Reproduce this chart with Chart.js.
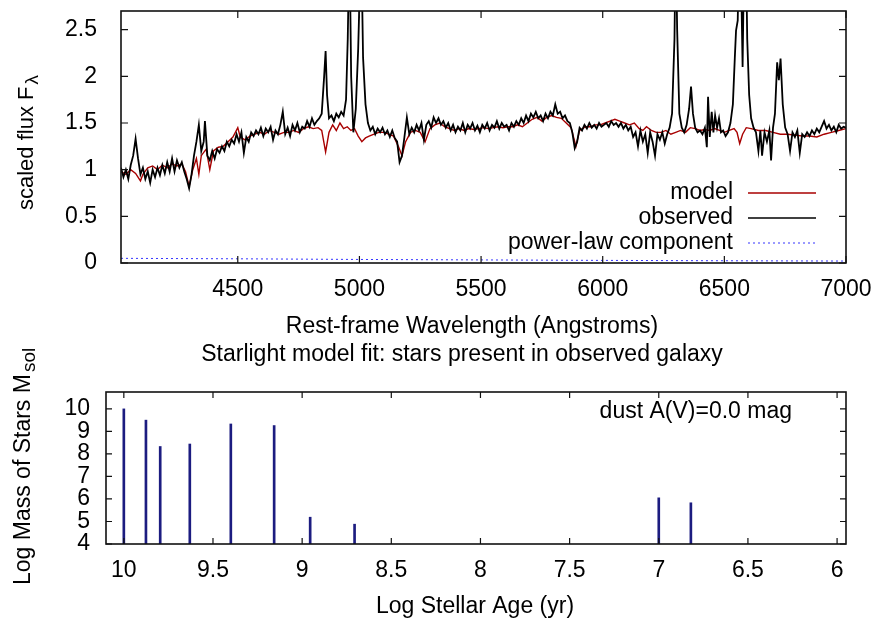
<!DOCTYPE html>
<html>
<head>
<meta charset="utf-8">
<script src="https://cdn.jsdelivr.net/npm/chart.js@4.4.0/dist/chart.umd.min.js"></script>
<style>
  html, body { margin: 0; padding: 0; background: #fff; }
  #wrap { position: relative; width: 890px; height: 623px; overflow: hidden; }
  #spec { position: absolute; left: 0; top: 0; }
  #mass { position: absolute; left: 0; top: 340px; }
</style>
</head>
<body>
<div id="wrap">
  <canvas id="spec" width="890" height="340"></canvas>
  <canvas id="mass" width="890" height="283"></canvas>
</div>
<script>
// === data ===

// observed spectrum (wavelength in Angstroms, scaled flux)
const OBS_WAVE = [
  4020, 4030, 4040, 4050, 4060, 4070, 4080, 4090, 4100, 4110,
  4120, 4130, 4140, 4150, 4160, 4170, 4180, 4190, 4200, 4210,
  4220, 4230, 4240, 4250, 4260, 4270, 4280, 4290, 4300, 4310,
  4320, 4330, 4340, 4350, 4360, 4365, 4375, 4385, 4395, 4405,
  4415, 4425, 4435, 4445, 4455, 4465, 4475, 4485, 4495, 4505,
  4515, 4525, 4535, 4545, 4555, 4565, 4575, 4585, 4595, 4605,
  4615, 4625, 4635, 4645, 4655, 4665, 4675, 4685, 4695, 4705,
  4715, 4725, 4735, 4745, 4755, 4765, 4775, 4785, 4795, 4805,
  4815, 4825, 4835, 4845, 4855, 4861, 4867, 4875, 4885, 4895,
  4905, 4915, 4925, 4935, 4945, 4952, 4959, 4966, 4975, 4985,
  4995, 5007, 5015, 5025, 5035, 5045, 5055, 5065, 5075, 5085,
  5095, 5105, 5115, 5125, 5135, 5145, 5155, 5165, 5175, 5185,
  5195, 5205, 5215, 5225, 5235, 5245, 5255, 5265, 5275, 5285,
  5295, 5305, 5315, 5325, 5335, 5345, 5355, 5365, 5375, 5385,
  5395, 5405, 5415, 5425, 5435, 5445, 5455, 5465, 5475, 5485,
  5495, 5505, 5515, 5525, 5535, 5545, 5555, 5565, 5575, 5585,
  5595, 5605, 5615, 5625, 5635, 5645, 5655, 5665, 5675, 5685,
  5695, 5705, 5715, 5725, 5735, 5745, 5755, 5765, 5775, 5785,
  5795, 5805, 5815, 5825, 5835, 5845, 5855, 5865, 5875, 5885,
  5895, 5905, 5915, 5925, 5935, 5945, 5955, 5965, 5975, 5985,
  5995, 6005, 6015, 6025, 6035, 6045, 6055, 6065, 6075, 6085,
  6095, 6105, 6115, 6125, 6135, 6145, 6155, 6165, 6175, 6185,
  6195, 6205, 6215, 6225, 6235, 6245, 6255, 6265, 6275, 6285,
  6295, 6300, 6306, 6315, 6325, 6335, 6345, 6355, 6363, 6371,
  6380, 6390, 6400, 6410, 6420, 6428, 6433, 6440, 6448, 6455,
  6462, 6470, 6478, 6486, 6495, 6505, 6515, 6525, 6535, 6543,
  6548, 6555, 6561, 6566, 6575, 6582, 6588, 6594, 6602, 6610,
  6620, 6630, 6640, 6648, 6655, 6665, 6675, 6685, 6692, 6700,
  6708, 6717, 6724, 6731, 6740, 6750, 6760, 6770, 6780, 6790,
  6800, 6810, 6820, 6830, 6840, 6850, 6860, 6870, 6880, 6890,
  6900, 6910, 6920, 6930, 6940, 6950, 6960, 6970, 6980, 6990,
  7000
];
const OBS_FLUX = [
  1.02, 0.92, 1.00, 0.90, 1.05, 1.15, 1.33, 1.12, 0.95, 1.02,
  0.90, 0.98, 0.86, 1.00, 0.92, 1.02, 0.94, 1.05, 0.96, 1.08,
  0.98, 1.12, 0.98, 1.10, 1.02, 1.08, 0.98, 0.90, 0.80, 0.95,
  1.15, 1.30, 1.48, 1.20, 1.30, 1.52, 1.15, 1.10, 1.20, 1.12,
  1.22, 1.18, 1.25, 1.20, 1.30, 1.25, 1.32, 1.28, 1.38, 1.30,
  1.40, 1.18, 1.35, 1.30, 1.40, 1.36, 1.42, 1.38, 1.45, 1.36,
  1.44, 1.40, 1.46, 1.32, 1.42, 1.38, 1.48, 1.62, 1.38, 1.45,
  1.36, 1.48, 1.42, 1.50, 1.40, 1.46, 1.44, 1.52, 1.46, 1.55,
  1.48, 1.52, 1.55, 1.60, 2.00, 2.27, 1.80, 1.55, 1.58, 1.52,
  1.60, 1.56, 1.62, 1.58, 1.75, 2.40, 3.50, 2.00, 1.40, 1.65,
  2.30, 3.50, 2.20, 1.70, 1.50, 1.42, 1.46, 1.38, 1.44, 1.40,
  1.45, 1.38, 1.42, 1.35, 1.42, 1.34, 1.30, 1.08, 1.15, 1.35,
  1.56, 1.38, 1.45, 1.40, 1.48, 1.42, 1.50, 1.32, 1.48, 1.52,
  1.45, 1.56, 1.50, 1.55, 1.48, 1.52, 1.45, 1.50, 1.42, 1.48,
  1.40, 1.46, 1.42, 1.50, 1.40, 1.48, 1.44, 1.50, 1.42, 1.47,
  1.40, 1.48, 1.44, 1.50, 1.42, 1.48, 1.45, 1.52, 1.44, 1.50,
  1.46, 1.48, 1.42, 1.50, 1.46, 1.52, 1.48, 1.55, 1.50, 1.58,
  1.52, 1.60, 1.56, 1.62, 1.55, 1.58, 1.52, 1.60, 1.55, 1.62,
  1.58, 1.70, 1.60, 1.62, 1.55, 1.58, 1.52, 1.50, 1.40, 1.23,
  1.30, 1.45, 1.42, 1.48, 1.44, 1.50, 1.45, 1.48, 1.44, 1.50,
  1.46, 1.48, 1.50, 1.46, 1.52, 1.48, 1.50, 1.46, 1.50, 1.44,
  1.48, 1.42, 1.46, 1.35, 1.40, 1.25, 1.42, 1.30, 1.38, 1.18,
  1.40, 1.30, 1.15, 1.38, 1.32, 1.40, 1.28, 1.38, 1.45, 1.60,
  2.40, 3.50, 2.50, 1.60, 1.45, 1.40, 1.48, 1.65, 1.89, 1.60,
  1.45, 1.40, 1.42, 1.38, 1.45, 1.24, 1.78, 1.35, 1.62, 1.40,
  1.58, 1.45, 1.55, 1.40, 1.42, 1.36, 1.40, 1.50, 1.70, 2.20,
  2.49, 2.60, 3.50, 3.50, 2.10, 3.50, 3.50, 2.40, 1.80, 1.55,
  1.45, 1.40, 1.20, 1.42, 1.15, 1.40, 1.30, 1.42, 1.10, 1.45,
  1.60, 2.15, 1.96, 2.19, 1.70, 1.45, 1.38, 1.20, 1.40, 1.35,
  1.42, 1.18, 1.38, 1.35, 1.40, 1.36, 1.42, 1.38, 1.44, 1.40,
  1.46, 1.52, 1.44, 1.48, 1.42, 1.46, 1.40, 1.48, 1.44, 1.46,
  1.45
];

// best-fit starlight model
const MODEL_WAVE = [
  4020, 4040, 4060, 4080, 4100, 4110, 4130, 4150, 4170, 4190,
  4210, 4230, 4250, 4270, 4285, 4300, 4315, 4330, 4340, 4350,
  4370, 4385, 4400, 4420, 4440, 4460, 4480, 4500, 4510, 4530,
  4550, 4570, 4590, 4610, 4630, 4650, 4670, 4690, 4710, 4730,
  4750, 4770, 4790, 4810, 4830, 4845, 4861, 4875, 4890, 4905,
  4920, 4935, 4950, 4965, 4980, 4995, 5010, 5025, 5040, 5060,
  5080, 5100, 5120, 5140, 5160, 5175, 5190, 5210, 5230, 5250,
  5270, 5290, 5310, 5330, 5350, 5370, 5390, 5410, 5430, 5450,
  5470, 5490, 5510, 5530, 5550, 5570, 5590, 5610, 5630, 5650,
  5670, 5690, 5710, 5730, 5750, 5770, 5790, 5810, 5830, 5850,
  5870, 5890, 5905, 5930, 5950, 5970, 5990, 6010, 6030, 6050,
  6070, 6090, 6110, 6130, 6150, 6165, 6180, 6200, 6220, 6240,
  6260, 6280, 6300, 6320, 6340, 6360, 6380, 6400, 6420, 6440,
  6460, 6480, 6500, 6520, 6540, 6552, 6563, 6575, 6590, 6610,
  6640, 6670, 6700, 6730, 6760, 6790, 6820, 6850, 6880, 6910,
  6940, 6970, 7000
];
const MODEL_FLUX = [
  0.98, 0.95, 1.00, 0.96, 0.88, 0.95, 1.02, 1.04, 1.00, 1.05,
  1.02, 1.06, 1.04, 1.06, 0.98, 0.82, 1.00, 1.12, 0.95, 1.15,
  1.22, 1.00, 1.20, 1.24, 1.25, 1.30, 1.35, 1.45, 1.35, 1.32,
  1.36, 1.38, 1.40, 1.38, 1.42, 1.40, 1.38, 1.40, 1.40, 1.42,
  1.40, 1.44, 1.46, 1.44, 1.45, 1.42, 1.19, 1.40, 1.48, 1.42,
  1.50, 1.44, 1.46, 1.42, 1.44, 1.36, 1.30, 1.34, 1.36, 1.38,
  1.40, 1.40, 1.38, 1.36, 1.25, 1.15, 1.30, 1.40, 1.42, 1.40,
  1.30, 1.44, 1.48, 1.50, 1.46, 1.44, 1.42, 1.44, 1.42, 1.44,
  1.43, 1.44, 1.45, 1.44, 1.45, 1.46, 1.45, 1.46, 1.46, 1.48,
  1.46, 1.50, 1.54, 1.56, 1.52, 1.56, 1.58, 1.56, 1.55, 1.50,
  1.45, 1.25, 1.42, 1.46, 1.46, 1.48, 1.48, 1.50, 1.52, 1.54,
  1.52, 1.50, 1.48, 1.50, 1.44, 1.42, 1.46, 1.42, 1.40, 1.40,
  1.42, 1.38, 1.40, 1.42, 1.40, 1.45, 1.44, 1.42, 1.43, 1.42,
  1.44, 1.42, 1.40, 1.42, 1.44, 1.40, 1.28, 1.38, 1.45, 1.44,
  1.42, 1.42, 1.40, 1.38, 1.38, 1.37, 1.36, 1.36, 1.35, 1.38,
  1.40, 1.42, 1.44
];

// power-law component
const PL_WAVE = [4020, 4500, 5000, 5500, 6000, 6500, 7000];
const PL_FLUX = [0.050, 0.045, 0.038, 0.033, 0.028, 0.024, 0.021];

// stellar populations: log age (yr) and log mass (M_sol)
const LOG_AGE = [10.0, 9.876, 9.796, 9.63, 9.40, 9.157, 8.955, 8.706, 7.0, 6.82];
const LOG_MASS = [10.0, 9.5, 8.33, 8.44, 9.33, 9.26, 5.19, 4.88, 6.05, 5.83];

// tick values
const WAVE_TICKS = [4500, 5000, 5500, 6000, 6500, 7000];
const FLUX_TICKS = [0, 0.5, 1, 1.5, 2, 2.5];
const AGE_TICKS = [10, 9.5, 9, 8.5, 8, 7.5, 7, 6.5, 6];
const MASS_TICKS = [4, 5, 6, 7, 8, 9, 10];

const FONT = '"Liberation Sans", Arial, Helvetica, sans-serif';
const TICK_FONT = { family: FONT, size: 23 };

// draw a label, optionally rotated and with a subscript
function drawText(ctx, item) {
  const size = item.size || 23;
  const subSize = item.subSize || 17;
  ctx.save();
  ctx.translate(item.x, item.y);
  if (item.rotate) ctx.rotate(-Math.PI / 2);
  ctx.fillStyle = "#000";
  ctx.textBaseline = "alphabetic";
  ctx.textAlign = "left";
  ctx.font = `${size}px ${FONT}`;
  const mainW = ctx.measureText(item.text).width;
  let subW = 0;
  if (item.sub) {
    ctx.font = `${subSize}px ${FONT}`;
    subW = ctx.measureText(item.sub).width + 2;
  }
  const total = mainW + subW;
  const x0 = item.align === "left" ? 0 : item.align === "right" ? -total : -total / 2;
  ctx.font = `${size}px ${FONT}`;
  ctx.fillText(item.text, x0, 0);
  if (item.sub) {
    ctx.font = `${subSize}px ${FONT}`;
    ctx.fillText(item.sub, x0 + mainW + 2, 5);
  }
  ctx.restore();
}

// gnuplot-like frame: border, inward mirrored ticks, texts, key
const framePlugin = {
  id: "frame",
  afterDraw(chart, args, opts) {
    const { ctx, chartArea: a, scales } = chart;
    ctx.save();
    ctx.strokeStyle = "#111";
    ctx.lineWidth = 1.2;
    ctx.beginPath();
    scales.x.ticks.forEach(t => {
      const px = scales.x.getPixelForValue(t.value);
      ctx.moveTo(px, a.bottom); ctx.lineTo(px, a.bottom - opts.tick);
      ctx.moveTo(px, a.top); ctx.lineTo(px, a.top + opts.tick);
    });
    scales.y.ticks.forEach(t => {
      const py = scales.y.getPixelForValue(t.value);
      ctx.moveTo(a.left, py); ctx.lineTo(a.left + opts.tick, py);
      ctx.moveTo(a.right, py); ctx.lineTo(a.right - opts.tick, py);
    });
    ctx.stroke();
    ctx.lineWidth = 1.6;
    ctx.strokeRect(a.left, a.top, a.right - a.left, a.bottom - a.top);

    if (opts.key) {
      chart.data.datasets.forEach((ds, i) => {
        const y = opts.key.y + i * opts.key.step;
        ctx.fillStyle = "#000";
        ctx.font = `23px ${FONT}`;
        ctx.textAlign = "right";
        ctx.textBaseline = "middle";
        ctx.fillText(ds.label, opts.key.x, y);
        ctx.strokeStyle = ds.borderColor;
        ctx.lineWidth = Math.min(ds.borderWidth, 1.6);
        ctx.setLineDash(ds.borderDash || []);
        ctx.beginPath();
        ctx.moveTo(opts.key.x + 15, y);
        ctx.lineTo(opts.key.x + 83, y);
        ctx.stroke();
        ctx.setLineDash([]);
      });
    }
    ctx.restore();
    (opts.texts || []).forEach(item => drawText(ctx, item));
  }
};

const pts = (xs, ys) => xs.map((x, i) => ({ x, y: ys[i] }));

// fixed-size axis boxes, no extra label padding
const fixWidth = w => s => { s.width = w; s.paddingTop = 0; s.paddingBottom = 0; };
const fixHeight = h => s => { s.height = h; s.paddingLeft = 0; s.paddingRight = 0; };

// === top panel: spectrum ===
new Chart(document.getElementById("spec"), {
  type: "line",
  data: {
    datasets: [
      {
        label: "model",
        data: pts(MODEL_WAVE, MODEL_FLUX),
        borderColor: "#a80000",
        borderWidth: 1.4,
        pointRadius: 0,
        order: 1,
      },
      {
        label: "observed",
        data: pts(OBS_WAVE, OBS_FLUX),
        borderColor: "#000000",
        borderWidth: 1.8,
        pointRadius: 0,
        order: 0,
      },
      {
        label: "power-law component",
        data: pts(PL_WAVE, PL_FLUX),
        borderColor: "#3434ff",
        borderWidth: 1,
        borderDash: [2, 3],
        pointRadius: 0,
        order: 2,
      },
    ],
  },
  options: {
    responsive: false,
    animation: false,
    events: [],
    layout: { padding: { top: 11, right: 44, left: 0, bottom: 0 } },
    plugins: {
      legend: { display: false },
      tooltip: { enabled: false },
      frame: {
        tick: 7,
        key: { x: 733, y: 193, step: 25 },
        texts: [
          { text: "Rest-frame Wavelength (Angstroms)", x: 472, y: 333 },
          { text: "scaled flux F", sub: "λ", subSize: 19, x: 33, y: 210, rotate: true, size: 22, align: "left" },
        ],
      },
    },
    scales: {
      x: {
        type: "linear",
        min: 4020,
        max: 7000,
        afterBuildTicks: s => { s.ticks = WAVE_TICKS.map(v => ({ value: v })); },
        afterFit: fixHeight(77),
        grid: { display: false, drawTicks: false },
        border: { display: false },
        ticks: { font: TICK_FONT, color: "#000", padding: 13, maxRotation: 0, autoSkip: false, callback: v => String(v) },
      },
      y: {
        min: 0,
        max: 2.7,
        afterBuildTicks: s => { s.ticks = FLUX_TICKS.map(v => ({ value: v })); },
        afterFit: fixWidth(121),
        grid: { display: false, drawTicks: false },
        border: { display: false },
        ticks: { font: TICK_FONT, color: "#000", padding: 24, autoSkip: false, callback: v => String(v) },
      },
    },
  },
  plugins: [framePlugin],
});

// === bottom panel: stellar mass vs age ===
new Chart(document.getElementById("mass"), {
  type: "bar",
  data: {
    datasets: [
      {
        label: "mass",
        data: pts(LOG_AGE, LOG_MASS),
        backgroundColor: "#1c1c80",
        barThickness: 2,
      },
    ],
  },
  options: {
    responsive: false,
    animation: false,
    events: [],
    layout: { padding: { top: 52, right: 44, left: 0, bottom: 0 } },
    plugins: {
      legend: { display: false },
      tooltip: { enabled: false },
      frame: {
        tick: 6,
        texts: [
          { text: "Starlight model fit: stars present in observed galaxy", x: 462, y: 21 },
          { text: "Log Stellar Age (yr)", x: 475, y: 273 },
          { text: "dust A(V)=0.0 mag", x: 792, y: 78, align: "right" },
          { text: "Log Mass of Stars M", sub: "sol", subSize: 19, x: 30, y: 245, rotate: true, align: "left" },
        ],
      },
    },
    scales: {
      x: {
        type: "linear",
        reverse: true,
        offset: false,
        min: 5.95,
        max: 10.1,
        afterBuildTicks: s => { s.ticks = AGE_TICKS.map(v => ({ value: v })); },
        afterFit: fixHeight(79),
        grid: { display: false, drawTicks: false, offset: false },
        border: { display: false },
        ticks: { font: TICK_FONT, color: "#000", padding: 13, maxRotation: 0, autoSkip: false, callback: v => String(v) },
      },
      y: {
        min: 4,
        max: 10.75,
        afterBuildTicks: s => { s.ticks = MASS_TICKS.map(v => ({ value: v })); },
        afterFit: fixWidth(106),
        grid: { display: false, drawTicks: false },
        border: { display: false },
        ticks: { font: TICK_FONT, color: "#000", padding: 16, autoSkip: false, callback: v => String(v) },
      },
    },
  },
  plugins: [framePlugin],
});
</script>
</body>
</html>
